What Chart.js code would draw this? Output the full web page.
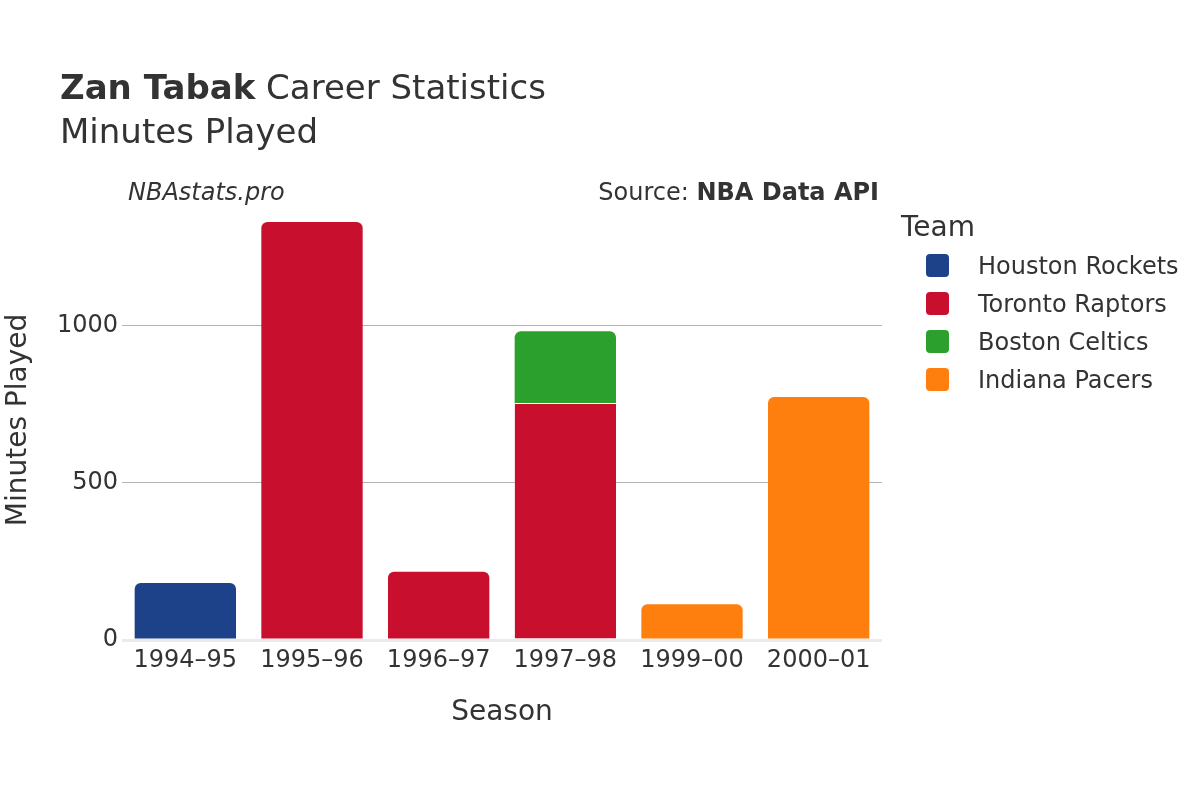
<!DOCTYPE html>
<html lang="en">
<head>
  <meta charset="UTF-8" />
  <title>Zan Tabak Career Statistics - Minutes Played</title>
  <script src="https://cdn.jsdelivr.net/npm/chart.js"></script>
  <style>
    body { margin: 0; background: #fff; }
    #wrap { width: 1200px; height: 800px; position: relative; }
  </style>
</head>
<body>
<div id="wrap"><canvas id="chart" width="1200" height="800"></canvas></div>
<script>
  const seasons = ['1994–95', '1995–96', '1996–97', '1997–98', '1999–00', '2000–01'];
  const teams = ['Houston Rockets', 'Toronto Raptors', 'Boston Celtics', 'Indiana Pacers'];
  const houston = [181, null, null, null, null, null];
  const toronto = [null, 1330, 217, 754, null, null];
  const boston = [null, null, null, 228, null, null];
  const indiana = [null, null, null, null, 114, 773];
  const yTicks = [0, 500, 1000];
  const teamColors = ['#1d428a', '#c8102e', '#2ca02c', '#ff7f0e'];

  const FONT = "'DejaVu Sans', sans-serif";
  const TEXT = '#333';

  // is there another team stacked on top of this bar?
  function hasAbove(ctx) {
    const idx = ctx.dataIndex;
    return ctx.chart.data.datasets
      .slice(ctx.datasetIndex + 1)
      .some(d => d.data[idx] != null);
  }

  // titles, annotations and the legend box on the right
  const decorations = {
    id: 'decorations',
    afterDraw(chart) {
      const ctx = chart.ctx;
      ctx.save();
      ctx.fillStyle = TEXT;
      ctx.textBaseline = 'alphabetic';
      ctx.textAlign = 'left';

      ctx.font = `bold 34px ${FONT}`;
      ctx.fillText('Zan Tabak', 60, 99);
      let w = ctx.measureText('Zan Tabak').width;
      ctx.font = `34px ${FONT}`;
      ctx.fillText(' Career Statistics', 60 + w, 99);
      ctx.fillText('Minutes Played', 60, 143);

      ctx.font = `italic 24px ${FONT}`;
      ctx.fillText('NBAstats.pro', 128, 200);

      ctx.textAlign = 'right';
      ctx.font = `bold 24px ${FONT}`;
      ctx.fillText('NBA Data API', 879, 200);
      w = ctx.measureText('NBA Data API').width;
      ctx.font = `24px ${FONT}`;
      ctx.fillText('Source: ', 879 - w, 200);

      ctx.textAlign = 'left';
      ctx.font = `28px ${FONT}`;
      ctx.fillText('Team', 901, 236);

      ctx.font = `24px ${FONT}`;
      chart.data.datasets.forEach((ds, i) => {
        const cy = 265.5 + i * 38;
        ctx.fillStyle = ds.backgroundColor;
        ctx.beginPath();
        ctx.roundRect(926, cy - 11.5, 23, 23, 4);
        ctx.fill();
        ctx.fillStyle = TEXT;
        ctx.fillText(ds.label, 978, cy + 8.5);
      });
      ctx.restore();
    }
  };

  const series = [houston, toronto, boston, indiana];

  new Chart(document.getElementById('chart'), {
    type: 'bar',
    data: {
      labels: seasons,
      datasets: teams.map((t, i) => ({
        label: t,
        data: series[i],
        backgroundColor: teamColors[i],
        borderColor: '#fff',
        borderWidth: ctx => hasAbove(ctx) ? { top: 1, left: 0, right: 0, bottom: 0 } : 0,
        borderRadius: ctx => hasAbove(ctx) ? 0 : 6,
        barPercentage: 0.8,
        categoryPercentage: 1
      }))
    },
    options: {
      responsive: false,
      animation: false,
      layout: { padding: { left: 0, right: 318, top: 200, bottom: 0 } },
      plugins: { legend: { display: false }, title: { display: false }, tooltip: { enabled: false } },
      scales: {
        x: {
          stacked: true,
          grid: { display: false },
          border: { display: false },
          ticks: { color: TEXT, font: { family: FONT, size: 24 }, padding: -2, maxRotation: 0 },
          title: { display: true, text: 'Season', color: TEXT, font: { family: FONT, size: 28 }, padding: { top: 0, bottom: 70 } },
          afterFit: s => { s.height = 160; }
        },
        y: {
          stacked: true,
          min: 0,
          max: 1400,
          afterBuildTicks: s => { s.ticks = yTicks.map(v => ({ value: v })); },
          grid: {
            drawTicks: false,
            color: c => c.tick.value === 0 ? '#ebebeb' : '#b4b4b4',
            lineWidth: c => c.tick.value === 0 ? 3 : 1
          },
          border: { display: false },
          ticks: { color: TEXT, font: { family: FONT, size: 24 }, padding: 4, callback: v => String(v) },
          title: { display: true, text: 'Minutes Played', color: TEXT, font: { family: FONT, size: 28 }, padding: { top: 2, bottom: 0 } },
          afterFit: s => { s.width = 122; }
        }
      }
    },
    plugins: [decorations]
  });
</script>
</body>
</html>
